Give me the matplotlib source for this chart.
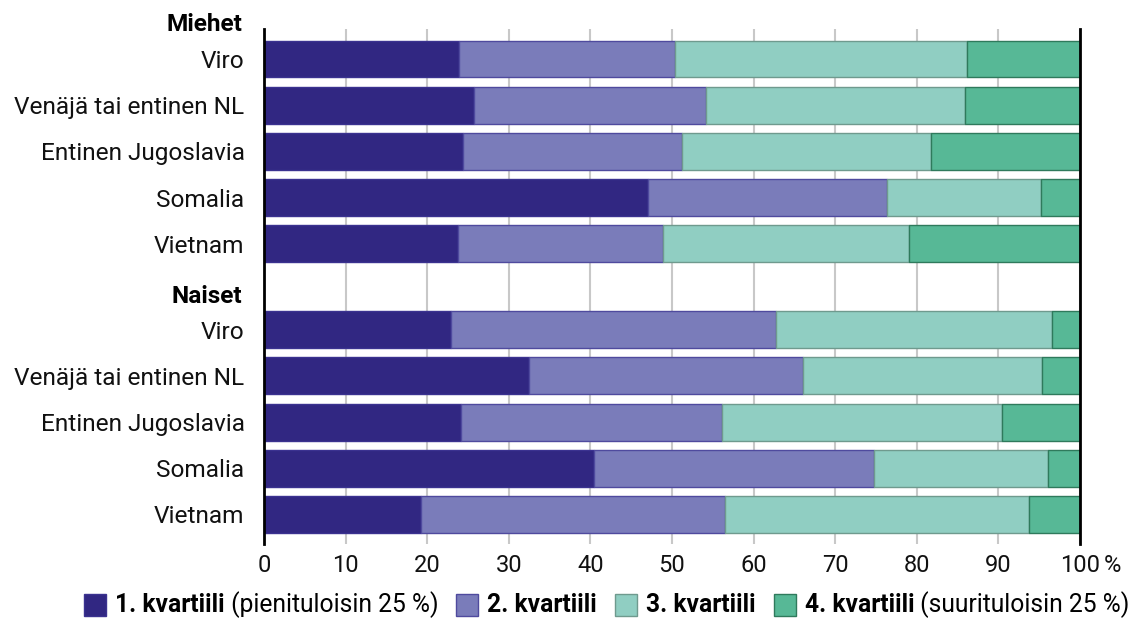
import matplotlib
matplotlib.use("Agg")

import matplotlib.pyplot as plt
from matplotlib.patches import Rectangle

plt.rcParams['font.family'] = ['Roboto', 'DejaVu Sans']

countries = ["Viro", "Venäjä tai entinen NL", "Entinen Jugoslavia", "Somalia", "Vietnam"]
groups = ["Miehet", "Naiset"]

# share of each income quartile, %
miehet_q1 = [23.9, 25.7, 24.4, 47.1, 23.8]
miehet_q2 = [26.5, 28.5, 26.8, 29.2, 25.1]
miehet_q3 = [35.8, 31.7, 30.6, 18.9, 30.2]
miehet_q4 = [13.8, 14.1, 18.2, 4.8, 20.9]

naiset_q1 = [22.9, 32.5, 24.2, 40.4, 19.3]
naiset_q2 = [39.8, 33.5, 31.9, 34.3, 37.2]
naiset_q3 = [33.9, 29.4, 34.4, 21.4, 37.3]
naiset_q4 = [3.4, 4.6, 9.5, 3.9, 6.2]

legend_bold = ["1. kvartiili", "2. kvartiili", "3. kvartiili", "4. kvartiili"]
legend_rest = [" (pienituloisin 25 %)", "", "", " (suurituloisin 25 %)"]

xticks = [0, 10, 20, 30, 40, 50, 60, 70, 80, 90, 100]
xtick_labels = ["0", "10", "20", "30", "40", "50", "60", "70", "80", "90", "100"]

colors = ["#312782", "#7a7cba", "#90cec2", "#57b896"]
edges = ["#3b3290", "#4f4a9e", "#6f9a8e", "#2f7a5c"]

fig = plt.figure(figsize=(11.39, 6.19), dpi=100)
ax = fig.add_axes([264/1139, 1-544/619, 816/1139, 515/619])

gap = 5.86
y_m = [i for i in range(5)]
y_n = [gap + i for i in range(5)]

for ys, qs in [(y_m, [miehet_q1, miehet_q2, miehet_q3, miehet_q4]),
               (y_n, [naiset_q1, naiset_q2, naiset_q3, naiset_q4])]:
    left = [0]*5
    for k, q in enumerate(qs):
        ax.barh(ys, q, left=left, height=0.8, color=colors[k],
                edgecolor=edges[k], linewidth=1, zorder=3)
        left = [a+b for a, b in zip(left, q)]

ax.set_xlim(0, 100)
ax.set_ylim(10.5, -0.65)
ax.set_yticks(y_m + y_n)
ax.set_yticklabels(countries + countries, fontsize=17.6, color="#111111")
ax.set_xticks(xticks)
ax.set_xticklabels(xtick_labels, fontsize=17, color="#111111")
ax.tick_params(axis="y", length=0, pad=14)
ax.tick_params(axis="x", length=0, pad=7)
ax.grid(axis="x", color="#c8c8c8", linewidth=1.5, zorder=0)

# percent sign after the last tick label
ax.annotate("%", xy=(1, 0), xycoords="axes fraction", xytext=(17, -7),
            textcoords="offset points", ha="left", va="top", fontsize=17, color="#111111")

for s in ["top", "bottom"]:
    ax.spines[s].set_visible(False)
for s in ["left", "right"]:
    ax.spines[s].set_linewidth(2)
    ax.spines[s].set_color("black")
    ax.spines[s].set_zorder(4)

# group headers
tr = ax.get_yaxis_transform()
ax.text(-0.027, -0.74, groups[0], transform=tr, ha="right", va="center",
        fontsize=17.6, fontweight="bold", clip_on=False)
ax.text(-0.027, 5.15, groups[1], transform=tr, ha="right", va="center",
        fontsize=17.6, fontweight="bold", clip_on=False)

# legend with mixed bold/regular text
fig.canvas.draw()
r = fig.canvas.get_renderer()
W, H = 1139, 619
x = 84
yc = 605
sq = 22
for k in range(4):
    fig.add_artist(Rectangle((x/W, (H-yc-sq/2)/H), sq/W, sq/H, transform=fig.transFigure,
                             facecolor=colors[k], edgecolor=edges[k], linewidth=1))
    x += sq + 9
    t = fig.text(x/W, (H-yc)/H, legend_bold[k], fontsize=17.7, fontweight="bold",
                 va="center", ha="left")
    x += t.get_window_extent(r).width
    if legend_rest[k]:
        t2 = fig.text(x/W, (H-yc)/H, legend_rest[k], fontsize=17.7, va="center", ha="left")
        x += t2.get_window_extent(r).width
    x += 18

fig.savefig("out.png", dpi=100)
